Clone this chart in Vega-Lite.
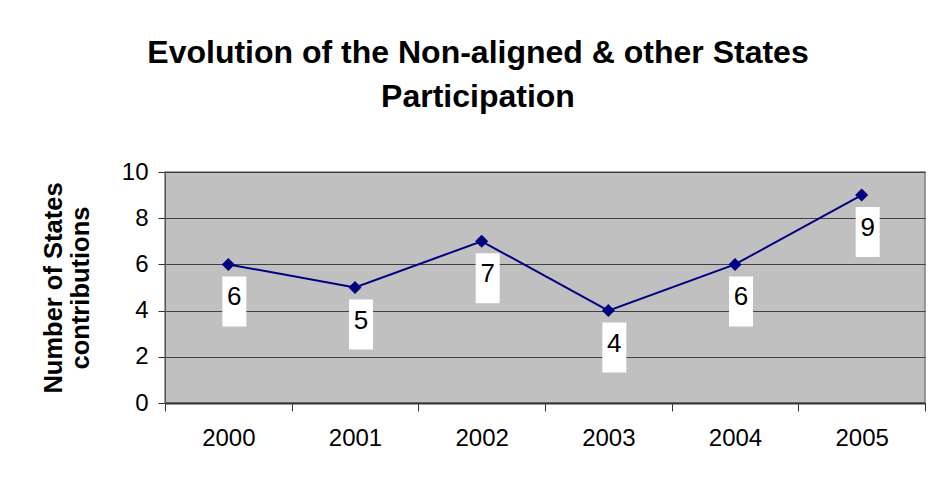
{
  "$schema": "https://vega.github.io/schema/vega-lite/v6.json",
  "width": 760,
  "height": 231,
  "autosize": {"type": "none"},
  "padding": {"left": 165, "top": 172, "right": 4, "bottom": 76},
  "background": "white",
  "config": {
    "font": "Liberation Sans",
    "view": {"fill": "#C0C0C0", "stroke": "#808080", "strokeWidth": 1.5}
  },
  "title": {
    "text": ["Evolution of the Non-aligned & other States", "Participation"],
    "fontSize": 32,
    "fontWeight": "bold",
    "color": "black",
    "anchor": "middle",
    "frame": "group",
    "dx": -67,
    "lineHeight": 44,
    "offset": 46
  },
  "data": {
    "values": [
      {"year": "2000", "value": 6},
      {"year": "2001", "value": 5},
      {"year": "2002", "value": 7},
      {"year": "2003", "value": 4},
      {"year": "2004", "value": 6},
      {"year": "2005", "value": 9}
    ]
  },
  "encoding": {
    "x": {
      "field": "year",
      "type": "ordinal",
      "bandPosition": 0.5,
      "scale": {"type": "band", "paddingInner": 0, "paddingOuter": 0},
      "axis": {
        "title": null,
        "labelAngle": 0,
        "labelFontSize": 24,
        "labelColor": "black",
        "labelPadding": 15,
        "tickBand": "extent",
        "tickSize": 8,
        "tickColor": "#333333",
        "domainColor": "#333333",
        "domainWidth": 2,
        "grid": false
      }
    },
    "y": {
      "field": "value",
      "type": "quantitative",
      "scale": {"domain": [0, 10], "nice": false},
      "axis": {
        "values": [0, 2, 4, 6, 8, 10],
        "title": ["Number of States", "contributions"],
        "titleFontSize": 25.5,
        "titleFontWeight": "bold",
        "titleColor": "black",
        "titleLineHeight": 27,
        "titlePadding": 28,
        "labelFontSize": 24,
        "labelColor": "black",
        "labelPadding": 10,
        "tickSize": 7,
        "tickColor": "#333333",
        "domainColor": "#555555",
        "gridColor": "#404040",
        "gridWidth": 1
      }
    }
  },
  "layer": [
    {
      "mark": {"type": "line", "color": "#000080", "strokeWidth": 2}
    },
    {
      "mark": {"type": "point", "shape": "diamond", "filled": true, "size": 170, "color": "#000080", "opacity": 1}
    },
    {
      "mark": {"type": "point", "shape": "M-0.12,0.24H0.36V1.24H-0.12Z", "filled": true, "size": 10000, "color": "white", "opacity": 1, "strokeWidth": 0}
    },
    {
      "mark": {"type": "text", "dx": 6, "dy": 33, "fontSize": 26, "color": "black", "baseline": "middle"},
      "encoding": {"text": {"field": "value", "type": "quantitative"}}
    }
  ]
}
